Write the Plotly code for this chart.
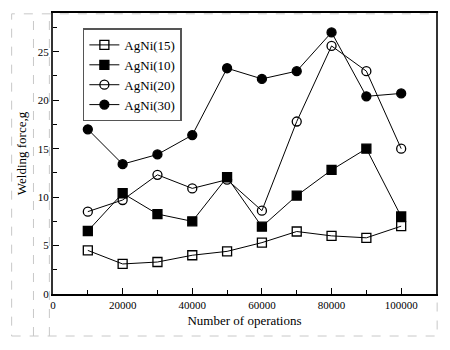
import plotly.graph_objects as go

operations = [10000, 20000, 30000, 40000, 50000, 60000, 70000, 80000, 90000, 100000]
agni15 = [4.5, 3.1, 3.3, 4.0, 4.4, 5.3, 6.45, 6.0, 5.8, 7.0]
agni10 = [6.5, 10.4, 8.25, 7.5, 12.05, 6.95, 10.15, 12.8, 15.0, 8.0]
agni20 = [8.5, 9.7, 12.3, 10.9, 11.8, 8.6, 17.8, 25.6, 23.0, 15.0]
agni30 = [17.0, 13.4, 14.4, 16.4, 23.3, 22.2, 23.0, 27.0, 20.4, 20.7]

series_names = ["AgNi(15)", "AgNi(10)", "AgNi(20)", "AgNi(30)"]
series_values = [agni15, agni10, agni20, agni30]
symbols = ["square-open", "square", "circle-open", "circle"]

FONT = "Liberation Serif, Times New Roman, serif"

fig = go.Figure()
for name, vals, sym in zip(series_names, series_values, symbols):
    fig.add_trace(go.Scatter(
        x=operations, y=vals, name=name, mode="lines+markers",
        line=dict(color="black", width=1),
        marker=dict(symbol=sym, size=9, color="black",
                    line=dict(color="black", width=1.3)),
    ))

# Dashed frame (document artefact)
dash = dict(color="#c8c8c8", width=1, dash="dash")
fig.add_shape(type="rect", xref="paper", yref="paper",
              x0=-0.108, x1=1.003, y0=-0.1495, y1=0.997, line=dash, layer="below")
fig.add_shape(type="line", xref="paper", yref="paper",
              x0=-0.051, x1=-0.051, y0=-0.1495, y1=0.997, line=dash, layer="below")
fig.add_shape(type="line", xref="paper", yref="paper",
              x0=-0.0095, x1=-0.0095, y0=-0.1495, y1=0.997, line=dash, layer="below")

fig.update_layout(
    width=450, height=350,
    margin=dict(l=53, r=14, t=13, b=56),
    paper_bgcolor="white", plot_bgcolor="white",
    font=dict(family=FONT, size=11, color="black"),
    showlegend=True,
    legend=dict(
        x=0.078, y=0.945, xanchor="left", yanchor="top",
        bgcolor="white", bordercolor="#555555", borderwidth=1.5,
        font=dict(family=FONT, size=13, color="black"),
        itemwidth=30, tracegroupgap=0,
    ),
    xaxis=dict(
        range=[0, 110000], tickvals=[0, 20000, 40000, 60000, 80000, 100000],
        ticktext=["0", "20000", "40000", "60000", "80000", "100000"],
        ticks="inside", ticklen=6, tickwidth=1, tickcolor="black",
        minor=dict(tickvals=[10000, 30000, 50000, 70000, 90000], ticks="inside",
                   ticklen=4, tickwidth=1, tickcolor="black"),
        showline=True, linecolor="black", linewidth=2, mirror=True,
        showgrid=False, zeroline=False,
        title=dict(text="Number of operations", font=dict(family=FONT, size=13), standoff=6),
        tickfont=dict(family=FONT, size=11),
    ),
    yaxis=dict(
        range=[0, 29], tickvals=[0, 5, 10, 15, 20, 25],
        ticks="inside", ticklen=6, tickwidth=1, tickcolor="black",
        minor=dict(tickvals=[2.5, 7.5, 12.5, 17.5, 22.5, 27.5], ticks="inside",
                   ticklen=4, tickwidth=1, tickcolor="black"),
        showline=True, linecolor="#333333", linewidth=2, mirror=True,
        showgrid=False, zeroline=False,
        title=dict(text="Welding force,g", font=dict(family=FONT, size=13), standoff=8),
        tickfont=dict(family=FONT, size=11),
    ),
)

fig.write_html("out.html")
